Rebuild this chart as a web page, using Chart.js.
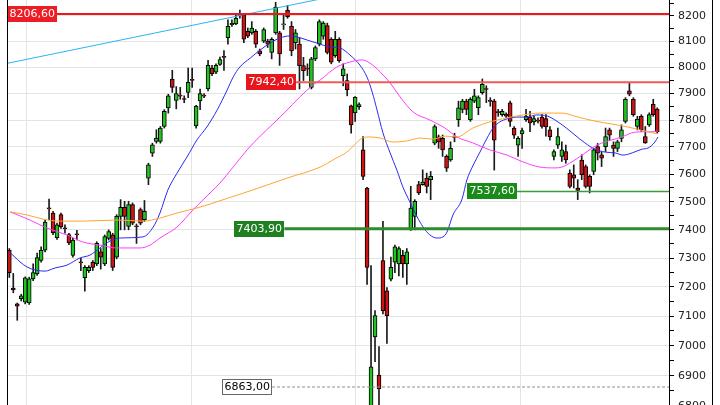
<!DOCTYPE html>
<html>
<head>
<meta charset="utf-8">
<script src="https://cdn.jsdelivr.net/npm/chart.js"></script>
<style>
  html, body { margin: 0; padding: 0; background: #fff; }
  canvas { display: block; }
</style>
</head>
<body>
<canvas id="grafico" width="720" height="405"></canvas>
<script>
// cotacoes diarias (OHLC)
const opens = [7328,7196,7142,7160,7148,7145,7228,7245,7292,7328,
  7478,7460,7372,7454,7406,7383,7310,7384,7286,7232,
  7257,7286,7280,7322,7280,7370,7382,7304,7448,7480,
  7412,7490,7413,7472,7436,7586,7677,7720,7720,7776,
  7845,7955,7874,7892,7879,7904,7952,7778,7872,7892,
  7917,7997,7981,8011,8040,8114,8165,8168,8201,8203,
  8139,8133,8139,8063,8101,8101,8057,8133,8133,8164,
  8222,8158,8095,8089,8006,7994,7923,8032,8089,8120,
  8161,8108,8044,8108,7968,7949,7853,7827,7850,7689,
  7550,6790,7030,6902,7292,7187,7227,7286,7280,7310,
  7280,7400,7448,7562,7562,7586,7580,7714,7737,7732,
  7665,7652,7737,7801,7840,7871,7801,7871,7846,7903,
  7917,7872,7871,7830,7820,7822,7865,7770,7707,7748,
  7801,7811,7793,7798,7811,7805,7763,7665,7707,7665,
  7683,7604,7598,7550,7652,7628,7592,7610,7701,7671,
  7701,7763,7707,7695,7732,7795,7910,7878,7776,7814,
  7738,7782,7859,7840];
const highs = [7334,7247,7145,7175,7235,7234,7280,7318,7340,7434,
  7510,7466,7424,7460,7418,7388,7370,7398,7300,7274,
  7274,7292,7358,7334,7382,7400,7388,7454,7508,7502,
  7502,7496,7421,7478,7505,7640,7714,7764,7776,7839,
  7897,7988,7926,7923,7891,7997,7997,7855,7917,7900,
  8026,8007,8013,8039,8064,8184,8184,8203,8222,8209,
  8152,8177,8146,8070,8152,8108,8114,8253,8139,8203,
  8241,8177,8146,8114,8038,8013,8038,8082,8184,8177,
  8171,8114,8139,8114,8013,7974,7856,7888,7865,7738,
  7552,7274,7119,6997,7430,7198,7304,7346,7340,7328,
  7334,7556,7508,7574,7616,7604,7610,7782,7744,7744,
  7671,7719,7751,7871,7878,7878,7884,7916,7891,7955,
  7929,7884,7878,7840,7840,7827,7871,7776,7738,7770,
  7840,7833,7814,7808,7820,7820,7776,7689,7770,7719,
  7707,7616,7634,7580,7671,7634,7598,7695,7713,7683,
  7770,7770,7719,7725,7782,7884,7942,7884,7814,7820,
  7776,7827,7878,7846];
const lows = [7233,7180,7086,7152,7142,7140,7222,7240,7286,7322,
  7436,7383,7366,7405,7388,7348,7304,7364,7257,7186,
  7250,7257,7274,7262,7274,7364,7257,7298,7400,7400,
  7400,7418,7352,7418,7430,7562,7665,7714,7714,7770,
  7826,7904,7842,7878,7865,7884,7923,7770,7839,7884,
  7910,7968,7975,8007,7988,8089,8158,8165,8190,8095,
  8114,8127,8076,8044,8095,8076,8032,8127,8007,8146,
  8190,8044,8070,7917,7949,7968,7917,8025,8082,8108,
  8051,8013,8038,8019,7929,7891,7751,7795,7840,7580,
  7209,6780,6947,6790,7108,7008,7221,7250,7238,7233,
  7209,7398,7400,7526,7560,7532,7508,7708,7695,7665,
  7610,7647,7719,7776,7827,7820,7795,7865,7820,7897,
  7865,7852,7615,7814,7814,7808,7776,7732,7665,7695,
  7795,7757,7782,7789,7770,7740,7725,7652,7695,7647,
  7640,7550,7550,7508,7580,7550,7532,7598,7652,7628,
  7683,7725,7665,7683,7719,7789,7891,7814,7763,7757,
  7713,7776,7814,7751];
const closes = [7250,7190,7134,7170,7232,7228,7250,7302,7328,7428,
  7475,7390,7418,7410,7404,7354,7364,7382,7284,7268,
  7268,7268,7352,7304,7376,7394,7268,7448,7480,7448,
  7490,7424,7411,7424,7466,7634,7708,7733,7770,7833,
  7891,7923,7900,7890,7877,7942,7950,7852,7900,7890,
  8007,7975,8007,8029,8038,8158,8170,8190,8199,8108,
  8120,8152,8089,8051,8146,8089,8108,8234,8051,8166,
  8196,8063,8133,8006,7987,7993,8032,8076,8177,8171,
  8057,8019,8108,8025,7994,7914,7782,7885,7858,7592,
  7268,6930,7102,6857,7119,7102,7268,7340,7334,7280,
  7322,7478,7502,7532,7571,7556,7592,7776,7719,7689,
  7622,7695,7735,7846,7871,7840,7878,7891,7884,7935,
  7915,7870,7725,7828,7833,7814,7795,7744,7732,7761,
  7814,7789,7805,7796,7776,7774,7738,7683,7738,7689,
  7652,7556,7586,7541,7598,7556,7556,7689,7677,7659,
  7738,7744,7695,7719,7763,7878,7897,7820,7804,7763,
  7715,7820,7820,7757];

// medias moveis: [pregao, valor]
const mediaAzul = [[0,7322],[1.4,7304],[2.7,7287],[4.5,7269],[6.5,7259],[9,7255],[11.5,7266],[14.5,7276],
  [17.8,7301],[20.3,7311],[22.8,7336],[25.3,7360],[27.8,7371],[33.6,7375],[36.2,7410],[37.9,7460],
  [39.9,7543],[42.2,7604],[44.7,7663],[47.2,7726],[49.7,7774],[52.3,7838],[54.8,7913],[56.3,7962],
  [58,8001],[60.6,8035],[63.1,8066],[65.6,8093],[68.1,8113],[70.6,8121],[72.4,8117],[74.9,8105],
  [77.4,8093],[80.7,8078],[83.2,8074],[85.7,8047],[88.2,8008],[90,7962],[91.3,7905],[92.5,7838],
  [94,7752],[95.8,7678],[97.5,7615],[99,7554],[100.8,7499],[102.6,7446],[104.1,7410],[105.8,7382],
  [107.6,7371],[109.1,7375],[110.1,7392],[111.6,7453],[113.9,7510],[115.1,7579],[116.6,7630],
  [118.4,7681],[120.2,7733],[121.7,7770],[123.4,7793],[125.2,7804],[127.7,7811],[130.2,7811],
  [132.7,7819],[135.3,7815],[137.3,7800],[139.8,7774],[142.3,7744],[144.8,7715],[147.3,7692],
  [149.9,7681],[152.4,7678],[154.4,7670],[156.7,7678],[159.2,7692],[160.7,7696],[162.4,7718],[163.2,7737]];
const mediaRosa = [[0.2,7464],[5.2,7435],[9.5,7406],[14.5,7382],[18.5,7357],[22.8,7346],[27.1,7336],
  [32.9,7336],[35.4,7346],[37.9,7371],[42.2,7410],[46.2,7471],[50.5,7532],[53,7568],[56.3,7626],
  [59.8,7689],[63.1,7740],[66.3,7785],[69.4,7830],[73.1,7887],[76.4,7932],[78.2,7951],[82.4,8001],
  [85.7,8020],[88.7,8028],[90.7,8016],[93.3,7982],[95.8,7940],[98.3,7887],[101.6,7830],[105.8,7800],
  [109.6,7770],[112.6,7737],[116.6,7715],[120.9,7689],[125.2,7670],[129.2,7645],[133.5,7626],
  [137.3,7623],[139,7626],[141.5,7645],[144.1,7670],[146.6,7696],[149.1,7715],[151.6,7726],
  [154.1,7737],[156.6,7752],[159.2,7756],[161.7,7756],[163.2,7759]];
const mediaLaranja = [[0.2,7464],[4.5,7453],[8.5,7438],[12.8,7431],[18.6,7431],[27.1,7435],[33.6,7431],
  [37.9,7442],[42.2,7460],[47.2,7478],[50.5,7492],[54.3,7510],[61.3,7543],[69.9,7586],[78.2,7626],
  [81.9,7656],[84.9,7681],[88.9,7733],[90.7,7737],[93.3,7733],[96.5,7718],[100,7722],[103.3,7733],
  [106.6,7729],[109.6,7740],[112.6,7737],[116.6,7770],[120.9,7793],[125.2,7808],[129.2,7819],
  [133.5,7826],[139,7826],[143.1,7811],[147.3,7796],[151.6,7785],[155.6,7774],[159.9,7759],[163.2,7748]];
const tendencia = [[-0.5,8015],[90,8304]];

// niveis horizontais
const niveis = [8206.6, 7942.4, 7537.6, 7403.9, 6863.0];
const rotulos = ['8206,60', '7942,40', '7537,60', '7403,90', '6863,00'];

const yTicks = [6800,6900,7000,7100,7200,7300,7400,7500,7600,7700,7800,7900,8000,8100,8200];
const gradeX = [25.1, 66.6, 107.8, 149.4];

const estiloNiveis = [
  {inicio: 12.0, cor: '#f01820', largura: 2, caixa: '#ee1c24', texto: '#fff'},
  {inicio: 72.1, cor: '#f25a5a', largura: 2, caixa: '#e8161c', texto: '#fff'},
  {inicio: 127.7, cor: '#3c9c3c', largura: 1.5, caixa: '#1a8a1a', texto: '#fff'},
  {inicio: 69.2, cor: '#2e8b2e', largura: 3, caixa: '#1f801f', texto: '#fff'},
  {inicio: 66.1, cor: '#8c8c8c', largura: 1, caixa: '#fff', texto: '#000', borda: '#666', traco: [3, 2]}
];

const idx = opens.map((_, i) => i);
const alta = i => closes[i] >= opens[i];

const ptos = arr => arr.map(p => ({x: p[0], y: p[1]}));

const datasets = [];
niveis.forEach((v, k) => {
  const e = estiloNiveis[k];
  datasets.push({
    type: 'line', order: 0,
    data: [{x: e.inicio, y: v}, {x: 170, y: v}],
    borderColor: e.cor, borderWidth: e.largura, borderDash: e.traco || [],
    pointRadius: 0
  });
});
datasets.push({type: 'line', order: 1, data: ptos(tendencia), borderColor: '#2bb5f2', borderWidth: 1, pointRadius: 0});
datasets.push({type: 'line', order: 1, data: ptos(mediaLaranja), borderColor: '#ffa431', borderWidth: 1,
  pointRadius: 0, cubicInterpolationMode: 'monotone'});
datasets.push({type: 'line', order: 1, data: ptos(mediaRosa), borderColor: '#ff3cff', borderWidth: 1,
  pointRadius: 0, cubicInterpolationMode: 'monotone'});
datasets.push({type: 'line', order: 1, data: ptos(mediaAzul), borderColor: '#2b2bf0', borderWidth: 1,
  pointRadius: 0, cubicInterpolationMode: 'monotone'});
// corpo dos candles
datasets.push({
  type: 'bar', order: 2, grouped: false,
  data: idx.map(i => ({x: i, y: [opens[i], closes[i]]})),
  backgroundColor: idx.map(i => alta(i) ? '#1fc41f' : '#cc1414'),
  borderColor: '#000', borderWidth: 1, borderSkipped: false,
  barThickness: 4, minBarLength: 1
});
// pavios
datasets.push({
  type: 'bar', order: 3, grouped: false,
  data: idx.map(i => ({x: i, y: [lows[i], highs[i]]})),
  backgroundColor: '#1a1a1a', borderWidth: 0, barThickness: 1
});

const etiquetas = {
  id: 'etiquetas',
  afterDatasetsDraw(chart) {
    const c = chart.ctx, xs = chart.scales.x, ys = chart.scales.y;
    c.save();
    c.font = '11px "DejaVu Sans"';
    c.textBaseline = 'middle';
    niveis.forEach((v, k) => {
      const e = estiloNiveis[k];
      const dir = Math.round(xs.getPixelForValue(e.inicio));
      const w = Math.round(c.measureText(rotulos[k]).width + 5);
      const cy = Math.round(ys.getPixelForValue(v));
      c.fillStyle = e.caixa;
      c.fillRect(dir - w, cy - 8, w, 16);
      if (e.borda) {
        c.strokeStyle = e.borda; c.lineWidth = 1;
        c.strokeRect(dir - w + 0.5, cy - 7.5, w - 1, 15);
      }
      c.fillStyle = e.texto;
      c.fillText(rotulos[k], dir - w + 2.5, cy + 0.5);
    });
    c.strokeStyle = '#000'; c.lineWidth = 1;
    c.beginPath();
    c.moveTo(7.5, 0); c.lineTo(7.5, 405);
    c.moveTo(712.5, 0); c.lineTo(712.5, 405);
    c.stroke();
    c.restore();
  }
};

const ctx = document.getElementById('grafico');
const grafico = new Chart(ctx, {
  type: 'bar',
  data: {datasets},
  options: {
    responsive: false,
    animation: false,
    devicePixelRatio: 1,
    layout: {padding: {left: 8, right: 0, top: 0, bottom: 0}},
    plugins: {legend: {display: false}, tooltip: {enabled: false}},
    scales: {
      x: {
        type: 'linear', min: -0.33, max: 165.96, offset: false,
        afterBuildTicks: s => { s.ticks = gradeX.map(v => ({value: v})); },
        ticks: {display: false},
        grid: {color: '#e4e4e4', drawTicks: false},
        border: {display: false}
      },
      y: {
        type: 'logarithmic', position: 'right', min: 6804, max: 8262,
        afterBuildTicks: s => {
          const t = [];
          yTicks.forEach(v => { t.push({value: v}); if (v + 50 < 8262) t.push({value: v + 50}); });
          s.ticks = t;
        },
        afterFit: s => { s.width = 51; s.paddingTop = 0; s.paddingBottom = 0; },
        ticks: {
          autoSkip: false, padding: 4, color: '#222',
          font: {family: 'DejaVu Sans', size: 11},
          callback: v => (v % 100 === 0 ? String(v) : '')
        },
        grid: {
          color: c => (c.tick && c.tick.value % 100 === 0 ? '#e4e4e4' : 'rgba(0,0,0,0)'),
          tickColor: '#000', tickLength: 5
        },
        border: {display: true, color: '#000'}
      }
    }
  },
  plugins: [etiquetas]
});
</script>
</body>
</html>
